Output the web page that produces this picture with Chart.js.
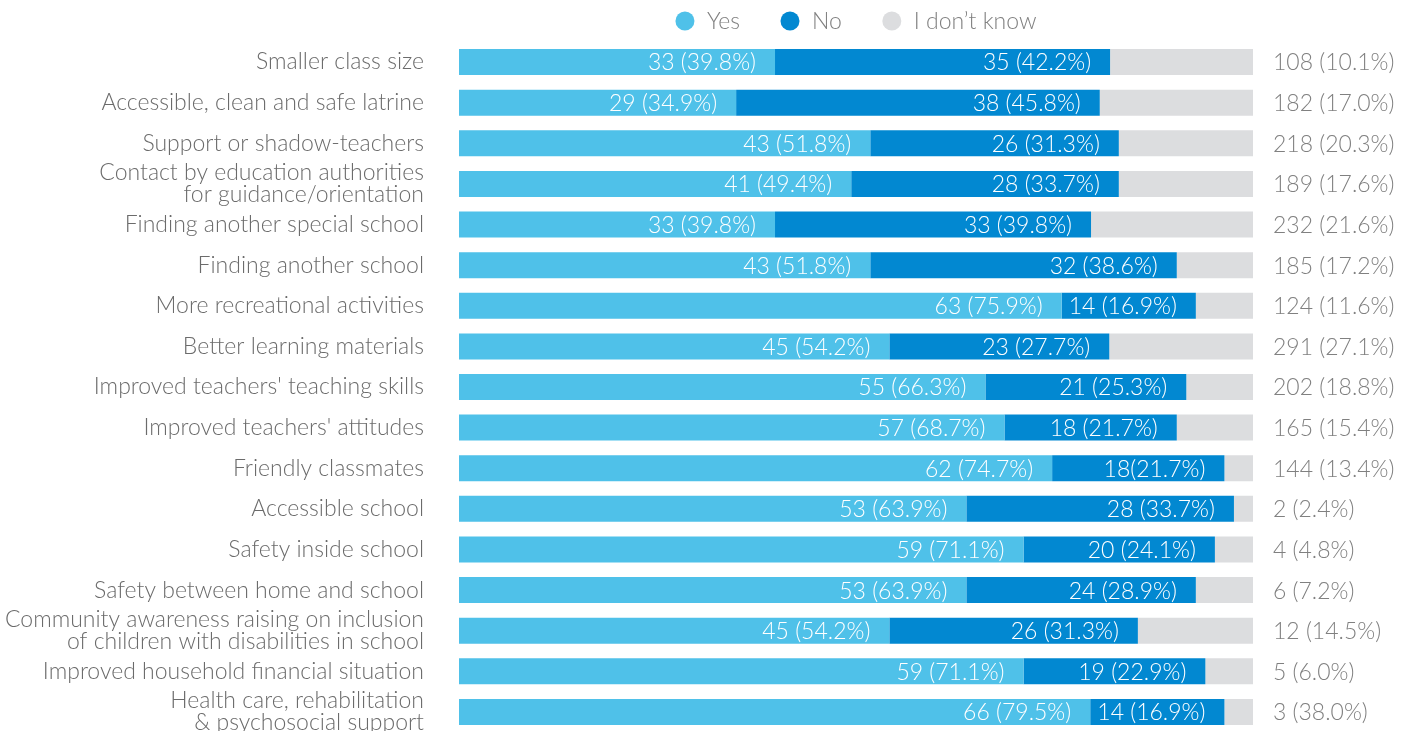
<!DOCTYPE html>
<html>
<head>
<meta charset="utf-8">
<script src="https://cdn.jsdelivr.net/npm/chart.js@4.4.1/dist/chart.umd.min.js"></script>
<style>
html,body{margin:0;padding:0;background:#fff;overflow:hidden;}
#wrap{width:1413px;height:742px;}
</style>
</head>
<body>
<div id="wrap"><canvas id="c" width="1413" height="742"></canvas></div>
<script>
const categories = [
  "Smaller class size",
  "Accessible, clean and safe latrine",
  "Support or shadow-teachers",
  ["Contact by education authorities", "for guidance/orientation"],
  "Finding another special school",
  "Finding another school",
  "More recreational activities",
  "Better learning materials",
  "Improved teachers' teaching skills",
  "Improved teachers' attitudes",
  "Friendly classmates",
  "Accessible school",
  "Safety inside school",
  "Safety between home and school",
  ["Community awareness raising on inclusion", "of children with disabilities in school"],
  "Improved household financial situation",
  ["Health care, rehabilitation", "& psychosocial support"]
];
const yesPct = [39.8, 34.9, 51.8, 49.4, 39.8, 51.8, 75.9, 54.2, 66.3, 68.7, 74.7, 63.9, 71.1, 63.9, 54.2, 71.1, 79.5];
const noPct  = [42.2, 45.8, 31.3, 33.7, 39.8, 38.6, 16.9, 27.7, 25.3, 21.7, 21.7, 33.7, 24.1, 28.9, 31.3, 22.9, 16.9];
const dontKnowPct = [18.0, 19.3, 16.9, 16.9, 20.4, 9.6, 7.2, 18.1, 8.4, 9.6, 3.6, 2.4, 4.8, 7.2, 14.5, 6.0, 3.6];
const yesLabels = ["33 (39.8%)","29 (34.9%)","43 (51.8%)","41 (49.4%)","33 (39.8%)","43 (51.8%)","63 (75.9%)","45 (54.2%)","55 (66.3%)","57 (68.7%)","62 (74.7%)","53 (63.9%)","59 (71.1%)","53 (63.9%)","45 (54.2%)","59 (71.1%)","66 (79.5%)"];
const noLabels  = ["35 (42.2%)","38 (45.8%)","26 (31.3%)","28 (33.7%)","33 (39.8%)","32 (38.6%)","14 (16.9%)","23 (27.7%)","21 (25.3%)","18 (21.7%)","18(21.7%)","28 (33.7%)","20 (24.1%)","24 (28.9%)","26 (31.3%)","19 (22.9%)","14 (16.9%)"];
const rightLabels = ["108 (10.1%)","182 (17.0%)","218 (20.3%)","189 (17.6%)","232 (21.6%)","185 (17.2%)","124 (11.6%)","291 (27.1%)","202 (18.8%)","165 (15.4%)","144 (13.4%)","2 (2.4%)","4 (4.8%)","6 (7.2%)","12 (14.5%)","5 (6.0%)","3 (38.0%)"];
const seriesNames = ["Yes", "No", "I don\u2019t know"];
const colors = ["#4FC1E9", "#0288D1", "#DCDDDF"];

const FONT = "Lato";
const FONT_SIZE = 23;

const labelPlugin = {
  id: 'barLabels',
  afterDatasetsDraw(chart) {
    const ctx = chart.ctx;
    ctx.save();
    ctx.font = "300 " + FONT_SIZE + "px " + FONT;
    ctx.textBaseline = "middle";
    const sets = [yesLabels, noLabels];
    sets.forEach((labs, di) => {
      const meta = chart.getDatasetMeta(di);
      meta.data.forEach((bar, i) => {
        ctx.fillStyle = "#ffffff";
        ctx.textAlign = "right";
        ctx.fillText(labs[i], bar.x - 19, bar.y + 1);
      });
    });
    const meta = chart.getDatasetMeta(2);
    meta.data.forEach((bar, i) => {
      ctx.fillStyle = "#808080";
      ctx.textAlign = "left";
      ctx.fillText(rightLabels[i], chart.chartArea.right + 20, bar.y + 1);
    });
    ctx.restore();
  }
};

const legendPlugin = {
  id: 'customLegend',
  afterDraw(chart) {
    const ctx = chart.ctx;
    const area = chart.chartArea;
    ctx.save();
    ctx.font = "300 " + FONT_SIZE + "px " + FONT;
    ctx.textBaseline = "middle";
    ctx.textAlign = "left";
    const d = 19, gapTxt = 12.5, gapItem = 40.5;
    const widths = chart.data.datasets.map(ds => d + gapTxt + ctx.measureText(ds.label).width);
    const total = widths.reduce((a, b) => a + b, 0) + gapItem * (widths.length - 1);
    let x = (area.left + area.right) / 2 - total / 2;
    const y = 21;
    chart.data.datasets.forEach((ds, i) => {
      ctx.fillStyle = ds.backgroundColor;
      ctx.beginPath();
      ctx.arc(x + d / 2, y, d / 2, 0, Math.PI * 2);
      ctx.fill();
      ctx.fillStyle = "#808080";
      ctx.fillText(ds.label, x + d + gapTxt, y + 1);
      x += widths[i] + gapItem;
    });
    ctx.restore();
  }
};

new Chart(document.getElementById('c'), {
  type: 'bar',
  data: {
    labels: categories,
    datasets: [
      { label: seriesNames[0], data: yesPct, backgroundColor: colors[0] },
      { label: seriesNames[1], data: noPct, backgroundColor: colors[1] },
      { label: seriesNames[2], data: dontKnowPct, backgroundColor: colors[2] }
    ]
  },
  options: {
    indexAxis: 'y',
    responsive: false,
    animation: false,
    maintainAspectRatio: false,
    datasets: { bar: { categoryPercentage: 1, barPercentage: 0.64, borderWidth: 0 } },
    layout: { padding: { left: 0, right: 160, top: 41.7, bottom: 9.7 } },
    scales: {
      x: { stacked: true, min: 0, max: 100, display: false },
      y: {
        stacked: true,
        grid: { display: false, drawTicks: false },
        border: { display: false },
        ticks: { color: "#6b6b6b", font: { family: FONT, size: FONT_SIZE, weight: 300, lineHeight: 0.96 }, padding: 35, autoSkip: false },
        afterFit(scale) { scale.width = 459; scale.paddingTop = 0; scale.paddingBottom = 0; }
      }
    },
    plugins: {
      legend: { display: false },
      tooltip: { enabled: false }
    }
  },
  plugins: [labelPlugin, legendPlugin]
});
</script>
</body>
</html>
